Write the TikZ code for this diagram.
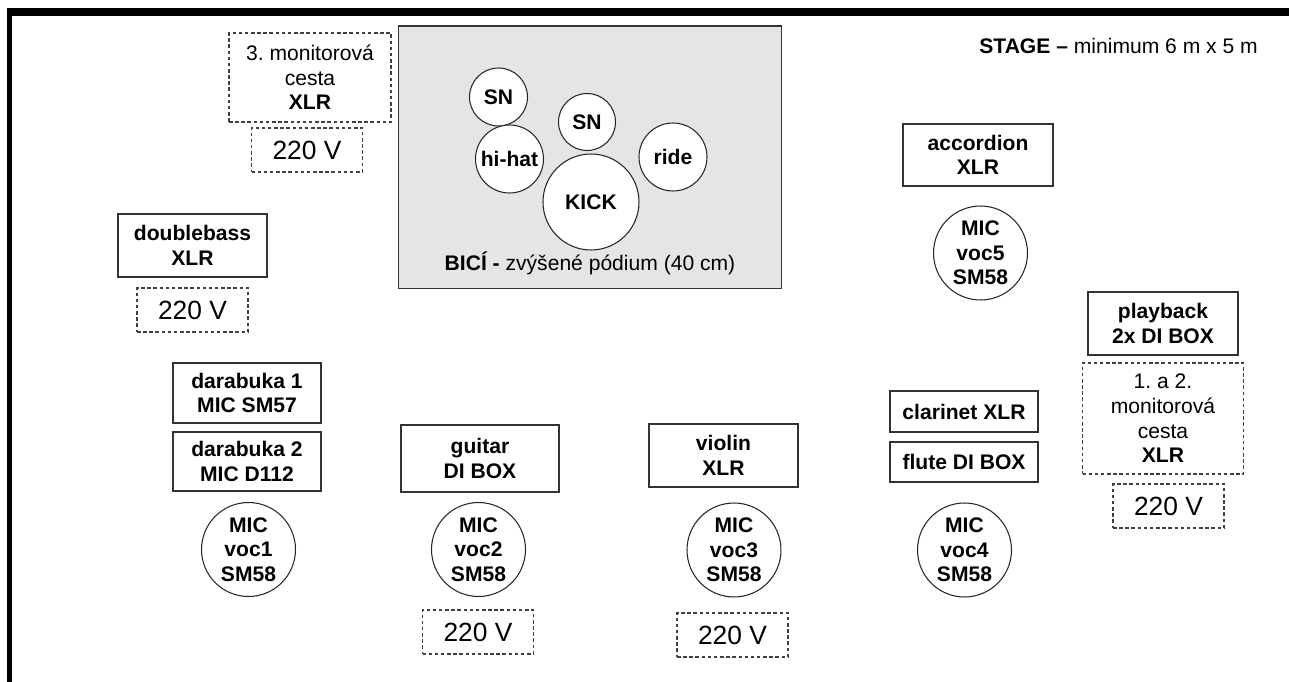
\documentclass[tikz,border=0pt]{standalone}
\usepackage{fontspec}
\setmainfont{Liberation Sans}
\usetikzlibrary{positioning}
\frenchspacing

\begin{document}
\begin{tikzpicture}[
  x=0.02cm, y=-0.02cm,
  font=\fontsize{12}{14}\selectfont,
  inbox/.style   = {draw=black!80, line width=0.6pt, fill=white,
                    align=center, inner sep=0pt,
                    font=\fontsize{12}{14}\selectfont\bfseries},
  power/.style   = {draw=black!75, line width=0.6pt,
                    dash pattern=on 2pt off 1.5pt,
                    minimum width=2.22cm, minimum height=0.88cm,
                    inner sep=0pt, font=\fontsize{15}{17}\selectfont},
  monitor/.style = {draw=black!75, line width=0.6pt,
                    dash pattern=on 2pt off 1.5pt,
                    align=center, inner sep=0pt},
  mic/.style     = {circle, draw=black!85, line width=0.6pt, fill=white,
                    minimum size=1.88cm, inner sep=0pt, align=center,
                    font=\fontsize{12}{14}\selectfont\bfseries},
  drum/.style    = {circle, draw=black!85, line width=0.6pt, fill=white,
                    inner sep=0pt, font=\fontsize{12}{14}\selectfont\bfseries},
  riser/.style   = {draw=black!80, line width=0.6pt, fill=black!10,
                    minimum width=7.68cm, minimum height=5.26cm,
                    inner sep=0pt},
]
\useasboundingbox (0,0) rectangle (1289,682);

% =============================================================
% Stage frame (top and left edge only)
% =============================================================
\fill[black] (7,8) rectangle (1289,16);
\fill[black] (7,8) rectangle (12,682);

\node[anchor=east] (stage) at (1264,46)
  {\textbf{STAGE --} minimum 6 m x 5 m};

% =============================================================
% Drum riser
% =============================================================
\node[riser] (riser) at (590,157.5) {};
\node (riserlbl) at (590,263)
  {\textbf{BICÍ -} zvýšené pódium (40 cm)};

\node[drum, minimum size=1.16cm] (sn1)   at (498.5,97)  {SN};
\node[drum, minimum size=1.14cm] (sn2)   at (587,122)   {SN};
\node[drum, minimum size=1.36cm] (hihat) at (509.5,159) {hi-hat};
\node[drum, minimum size=1.92cm] (kick)  at (591,202)   {KICK};
\node[drum, minimum size=1.36cm] (ride)  at (673,157)   {ride};

% =============================================================
% Monitor lines and power
% =============================================================
\node[monitor, minimum width=3.24cm, minimum height=1.78cm] (mon3)
  at (310,77.5) {3. monitorová\\cesta\\\textbf{XLR}};
\node[power] (pow1) at (307,150) {220 V};

\node[monitor, minimum width=3.22cm, minimum height=2.22cm] (mon12)
  at (1163,418.5) {1. a 2.\\monitorová\\cesta\\\textbf{XLR}};
\node[power] (pow5) at (1168.5,506) {220 V};

% =============================================================
% Inputs, left side
% =============================================================
\node[inbox, minimum width=2.98cm, minimum height=1.26cm] (dbass)
  at (192.5,245.5) {doublebass\\XLR};
\node[power] (pow2) at (192.5,310) {220 V};

\node[inbox, minimum width=2.96cm, minimum height=1.2cm] (darab1)
  at (247,393) {darabuka 1\\MIC SM57};
\node[inbox, minimum width=2.96cm, minimum height=1.18cm] (darab2)
  at (247,461.5) {darabuka 2\\MIC D112};
\node[mic] (voc1) at (248.5,549.5) {MIC\\voc1\\SM58};

% --- guitar ---
\node[inbox, minimum width=3.16cm, minimum height=1.34cm] (guitar)
  at (480,458.5) {guitar\\DI BOX};
\node[mic] (voc2) at (478.5,549.5) {MIC\\voc2\\SM58};
\node[power] (pow3) at (478,632) {220 V};

% --- violin ---
\node[inbox, minimum width=2.98cm, minimum height=1.26cm] (violin)
  at (723.5,455.5) {violin\\XLR};
\node[mic] (voc3) at (734,550) {MIC\\voc3\\SM58};
\node[power] (pow4) at (732.5,635) {220 V};

% =============================================================
% Inputs, right side
% =============================================================
\node[inbox, minimum width=3.0cm, minimum height=1.24cm] (accord)
  at (978,155) {accordion\\XLR};
\node[mic] (voc5) at (980.5,253) {MIC\\voc5\\SM58};

\node[inbox, minimum width=2.96cm, minimum height=0.82cm] (clarinet)
  at (964,411.5) {clarinet XLR};
\node[inbox, minimum width=2.96cm, minimum height=0.8cm] (flute)
  at (964,462) {flute DI BOX};
\node[mic] (voc4) at (964.5,550) {MIC\\voc4\\SM58};

\node[inbox, minimum width=3.0cm, minimum height=1.26cm] (playback)
  at (1163,323.5) {playback\\2x DI BOX};

\end{tikzpicture}
\end{document}
